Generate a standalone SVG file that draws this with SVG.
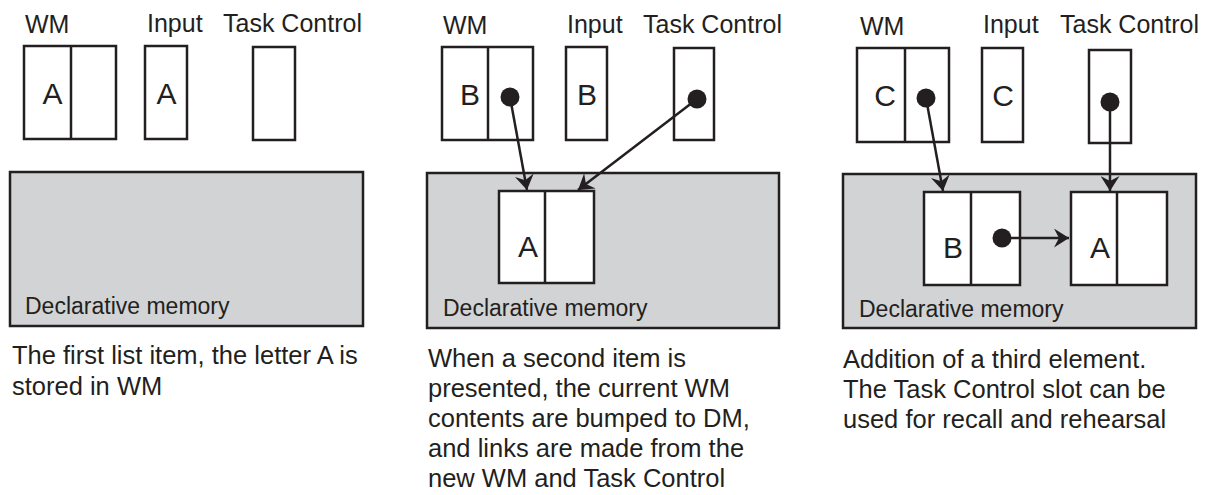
<svg xmlns="http://www.w3.org/2000/svg" width="1208" height="495" viewBox="0 0 1208 495">
<style>
text{font-family:"Liberation Sans",Arial,sans-serif;fill:#231f20}
.lbl{font-size:25px}
.let{font-size:30px;text-anchor:middle}
.dm{font-size:23px}
.cap{font-size:25.5px}
.box{fill:#fff;stroke:#231f20;stroke-width:2.5}
.mem{fill:#d1d3d4;stroke:#231f20;stroke-width:2.5}
.div{stroke:#231f20;stroke-width:2.5}
.dot{fill:#231f20}
.con{stroke:#231f20;stroke-width:2.5;fill:none;marker-end:url(#ah)}
</style>
<defs>
<marker id="ah" viewBox="0 0 15 19" refX="15" refY="9.5" markerWidth="15" markerHeight="19" markerUnits="userSpaceOnUse" orient="auto">
<path d="M0,0 L15,9.5 L0,19 L5,9.5 z" fill="#231f20"/>
</marker>
</defs>
<rect width="1208" height="495" fill="#fff"/>

<!-- Panel 1 -->
<g id="p1-labels">
<text class="lbl" x="25" y="33">WM</text>
<text class="lbl" x="147" y="32">Input</text>
<text class="lbl" x="223" y="32">Task Control</text>
</g>
<g id="p1-dm">
<rect class="mem" x="10" y="172" width="353" height="154"/>
<text class="dm" x="25" y="314">Declarative memory</text>
</g>
<g id="p1-wm">
<rect class="box" x="24" y="46" width="92" height="93"/>
<line class="div" x1="71" y1="46" x2="71" y2="139"/>
<text class="let" x="52.5" y="104">A</text>
</g>
<g id="p1-input">
<rect class="box" x="145" y="46" width="42" height="93"/>
<text class="let" x="166.5" y="104">A</text>
</g>
<g id="p1-task">
<rect class="box" x="253" y="47" width="42" height="93"/>
</g>
<g id="p1-caption">
<text class="cap" x="12" y="364">The first list item, the letter A is</text>
<text class="cap" x="12" y="395">stored in WM</text>
</g>

<!-- Panel 2 -->
<g id="p2-labels">
<text class="lbl" x="443" y="34">WM</text>
<text class="lbl" x="567" y="33">Input</text>
<text class="lbl" x="643" y="33">Task Control</text>
</g>
<g id="p2-dm">
<rect class="mem" x="427" y="173" width="352" height="155"/>
<text class="dm" x="443" y="316">Declarative memory</text>
</g>
<g id="p2-dmA">
<rect class="box" x="499" y="191" width="95" height="92"/>
<line class="div" x1="545" y1="191" x2="545" y2="283"/>
<text class="let" x="528" y="257">A</text>
</g>
<g id="p2-wm">
<rect class="box" x="442" y="47" width="91" height="93"/>
<line class="div" x1="488" y1="47" x2="488" y2="140"/>
<text class="let" x="470" y="105">B</text>
<circle class="dot" cx="510" cy="97" r="9.5"/>
</g>
<g id="p2-input">
<rect class="box" x="566" y="47" width="41" height="93"/>
<text class="let" x="587" y="105">B</text>
</g>
<g id="p2-task">
<rect class="box" x="674" y="48" width="40" height="92"/>
<circle class="dot" cx="697" cy="99" r="9.5"/>
</g>
<g id="p2-caption">
<text class="cap" x="428" y="367">When a second item is</text>
<text class="cap" x="428" y="397">presented, the current WM</text>
<text class="cap" x="428" y="427">contents are bumped to DM,</text>
<text class="cap" x="428" y="457">and links are made from the</text>
<text class="cap" x="428" y="487">new WM and Task Control</text>
</g>

<!-- Panel 3 -->
<g id="p3-labels">
<text class="lbl" x="860" y="35">WM</text>
<text class="lbl" x="983" y="33">Input</text>
<text class="lbl" x="1060" y="33">Task Control</text>
</g>
<g id="p3-dm">
<rect class="mem" x="843" y="174" width="353" height="154"/>
<text class="dm" x="859" y="317">Declarative memory</text>
</g>
<g id="p3-dmB">
<rect class="box" x="924" y="192" width="96" height="93"/>
<line class="div" x1="971" y1="192" x2="971" y2="285"/>
<text class="let" x="953" y="258">B</text>
<circle class="dot" cx="1002" cy="238" r="9.5"/>
</g>
<g id="p3-dmA">
<rect class="box" x="1071" y="192" width="96" height="93"/>
<line class="div" x1="1117" y1="192" x2="1117" y2="285"/>
<text class="let" x="1100" y="258">A</text>
</g>
<g id="p3-wm">
<rect class="box" x="857" y="48" width="92" height="94"/>
<line class="div" x1="905" y1="48" x2="905" y2="142"/>
<text class="let" x="885" y="106">C</text>
<circle class="dot" cx="926" cy="98" r="9.5"/>
</g>
<g id="p3-input">
<rect class="box" x="982" y="48" width="41" height="94"/>
<text class="let" x="1003" y="106">C</text>
</g>
<g id="p3-task">
<rect class="box" x="1089" y="50" width="42" height="93"/>
<circle class="dot" cx="1110" cy="102" r="9.5"/>
</g>
<g id="p3-caption">
<text class="cap" x="843" y="368">Addition of a third element.</text>
<text class="cap" x="843" y="398">The Task Control slot can be</text>
<text class="cap" x="843" y="428">used for recall and rehearsal</text>
</g>

<g id="connectors">
<line class="con" x1="510" y1="97" x2="527" y2="190"/>
<line class="con" x1="697" y1="99" x2="578" y2="190"/>
<line class="con" x1="926" y1="98" x2="943" y2="191"/>
<line class="con" x1="1110" y1="102" x2="1110" y2="191"/>
<line class="con" x1="1002" y1="238" x2="1069" y2="238"/>
</g>
</svg>
